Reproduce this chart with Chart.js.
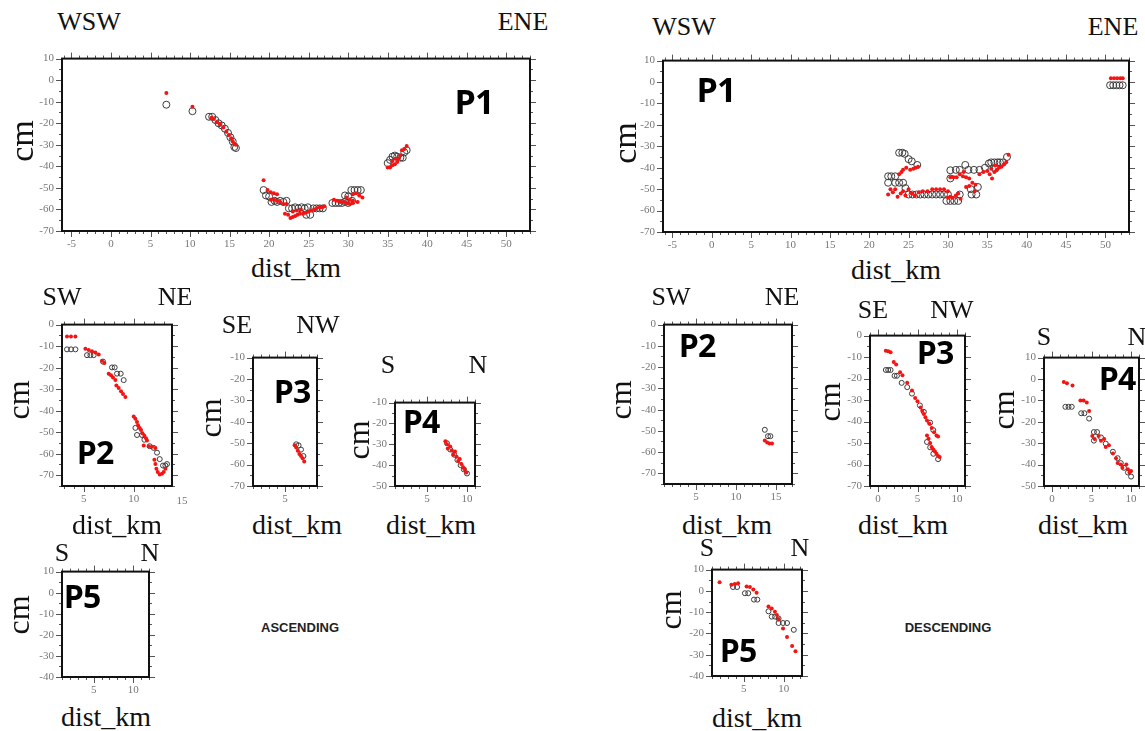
<!DOCTYPE html>
<html>
<head>
<meta charset="utf-8">
<script src="https://cdn.jsdelivr.net/npm/chart.js@4/dist/chart.umd.min.js"></script>
<style>
body{margin:0;background:#fff;width:1145px;height:731px;position:relative;overflow:hidden}
.t{position:absolute;white-space:nowrap;transform:translate(-50%,-50%);color:#111;line-height:1;font-family:"Liberation Serif","Times New Roman",Times,"DejaVu Serif",serif}
.v{transform:translate(-50%,-50%) rotate(-90deg)}
.p{font-family:"Open Sans","Noto Sans",sans-serif;font-weight:700;color:#000;letter-spacing:-1px}
.s{font-family:"Liberation Sans",Arial,sans-serif;font-weight:700;font-size:13px;color:#222}
.k{font-size:11px;color:#777}
</style>
</head>
<body>
<script>
// profiles: [km, cm] pairs, black = observed, red = model
const ascP1Obs = [[7.0,-11.4],[10.3,-14.4],[12.4,-17],[12.8,-17],[13.2,-18.5],[13.6,-20],[14.0,-21],[14.4,-22.5],[14.8,-24.5],[15.1,-26.5],[15.4,-28.5],[15.6,-31],[15.8,-31.5],
  [19.3,-51],[19.6,-53.5],[20.0,-54],[20.3,-56.5],[20.7,-56],[21.0,-56.5],[21.4,-56],[21.8,-56.5],[22.2,-56],[22.5,-59.5],[22.9,-59.5],[23.3,-59],[23.7,-59.5],[24.1,-59],[24.5,-59.5],[24.9,-59],[24.7,-62.5],[25.2,-62.5],[25.6,-59.5],[26.0,-59.5],[26.4,-59.5],[26.8,-59.5],
  [28.0,-57],[28.4,-57],[28.8,-57],[29.2,-57],[29.6,-56.5],[29.6,-53.5],[30.0,-54],[30.4,-51],[30.8,-51],[31.2,-51],[31.6,-51],[30.0,-57],[30.5,-56],
  [35.0,-38.5],[35.3,-37],[35.6,-35.5],[35.9,-35],[36.2,-35.5],[36.6,-36],[36.9,-36],[37.1,-33.5],[37.4,-32.5]];
const ascP1Mod = [[7.0,-6],[10.3,-12.4],[12.7,-17.5],[13.0,-18],[13.4,-19.5],[13.8,-20.5],[14.2,-22],[14.6,-24],[14.9,-25.5],[15.2,-27],[15.4,-28.5],[15.6,-29.5],[15.8,-30],
  [19.3,-46.5],[19.8,-51],[20.2,-52],[20.6,-52.5],[21.0,-53],[20.2,-55.5],[20.6,-55.5],[21.0,-56],[21.4,-56.5],[21.8,-57.5],[22.2,-57.5],[22.0,-62],[22.4,-62.5],[22.7,-64],[23.0,-63.5],[23.3,-63],[23.6,-62.5],[23.9,-62],[24.3,-62],[24.6,-61.5],[25.0,-61],[25.3,-60.5],[25.7,-60],[26.0,-59.5],[26.4,-59],[26.7,-59],[27.0,-58.5],[23.0,-61],[23.5,-60.5],[24.0,-60],
  [28.2,-55.5],[28.6,-56],[29.0,-56.5],[29.4,-56.5],[29.8,-57],[30.2,-57.5],[30.6,-57],[29.8,-54.5],[30.2,-55.5],[30.6,-53],[31.0,-52.5],[31.4,-53.5],[31.8,-54.5],[30.6,-56],[31.2,-56.5],
  [35.0,-40.5],[35.3,-40.5],[35.6,-39.5],[35.9,-39],[36.2,-38],[36.4,-36.5],[36.6,-35],[36.8,-32.5],[37.1,-32],[37.4,-30.5],[35.6,-37.5],[36.0,-36.5]];

const ascP2Obs = [[3.33,-11.5],[3.73,-11.5],[4.17,-11.5],[5.33,-14.2],[5.67,-14.2],[6.0,-14.2],[6.93,-17.2],[7.83,-19.9],[8.1,-19.9],[8.33,-22.8],[8.7,-22.8],[9.0,-25.8],
  [10.17,-48],[10.33,-51.3],[10.83,-51.3],[11.07,-53.5],[11.6,-56.5],[12.0,-57.3],[12.33,-59.5],[12.6,-62.5],[12.93,-65.5],[13.17,-65.5],[13.33,-64.8]];
const ascP2Mod = [[3.33,-5.5],[3.73,-5.5],[4.17,-5.5],[5.17,-11.2],[5.5,-11.8],[5.83,-12.4],[6.17,-13],[6.5,-13.9],[6.83,-16.8],[7.07,-17.8],[7.5,-22.8],[7.73,-23.5],[7.93,-24.6],[8.17,-25.8],
  [8.27,-28.3],[8.5,-29.5],[8.73,-31],[8.93,-32.2],[9.17,-33.7],[10.0,-42.7],[10.17,-43.8],[10.33,-45.3],[10.43,-46.8],[10.6,-48],[10.73,-49],[10.87,-50.5],[11.07,-51.7],[11.23,-52.8],[11.33,-53.8],
  [11.0,-56.2],[11.5,-56.5],[11.83,-56.8],[12.17,-57.3],[12.07,-62.8],[12.17,-64.8],[12.27,-67],[12.4,-68.5],[12.6,-69.7],[12.83,-69.3],[13.0,-68.5],[13.17,-67]];

const ascP3Obs = [[6.4,-50.5],[6.7,-51],[7.0,-53],[7.3,-56]];
const ascP3Mod = [[6.2,-51],[6.4,-52],[6.6,-53.5],[6.8,-55],[7.0,-56],[7.2,-57],[7.4,-58.5]];

const ascP4Obs = [[7.5,-29.5],[7.9,-32.5],[8.4,-35],[8.8,-37.5],[9.2,-40],[9.6,-42],[10.0,-44]];
const ascP4Mod = [[7.3,-28.5],[7.5,-30],[7.6,-32],[7.9,-31],[8.1,-33],[8.3,-35],[8.5,-33.5],[8.7,-36],[8.9,-38],[9.1,-37],[9.3,-39.5],[9.5,-41],[9.7,-42],[9.9,-43.5]];

const ascP5Obs = [];
const ascP5Mod = [];

const descP1Obs = [[22.4,-44],[22.4,-47],[22.8,-44],[23.3,-44],[23.3,-47],[23.8,-47],[24.3,-47],[23.8,-33],[24.2,-33],[24.5,-33.5],[25.0,-36],[25.4,-37],[26.1,-38.7],
  [24.6,-49.5],[25.0,-52.5],[25.5,-52.5],[26.0,-52.5],[26.5,-52.5],[27.0,-52.5],[27.5,-52.5],[28.0,-52.5],[28.5,-52.5],[29.0,-52.5],[29.5,-52.5],[30.0,-52.5],
  [29.8,-55.5],[30.3,-55.5],[30.8,-55.5],[31.3,-55.5],[30.3,-41.2],[30.3,-45],[31.0,-41],[31.5,-41],[32.2,-38.7],[32.6,-41],[33.3,-41],[32.9,-50],[33.8,-49],[33.0,-52.5],[33.6,-52.5],[31.5,-52.5],
  [34.0,-41],[34.7,-40],[35.2,-38],[35.5,-37.5],[35.9,-37.5],[36.3,-37.5],[36.6,-37.5],[37.0,-37.5],[37.5,-35],[36.0,-40.5],
  [50.6,-1.5],[51.0,-1.5],[51.4,-1.5],[51.8,-1.5],[52.2,-1.5]];
const descP1Mod = [[23.8,-43],[24.1,-42],[24.3,-41],[24.7,-40],[25.2,-41],[25.6,-40.5],[25.9,-40],[26.2,-39.5],
  [22.4,-52.5],[22.7,-50],[23.0,-51.5],[23.3,-50],[23.6,-53.5],[24.0,-52],[24.3,-51],[24.6,-53],[25.0,-50],[25.4,-52],[25.8,-53],[26.3,-51.5],[26.8,-51],[27.4,-51],[28.0,-50],[28.5,-50],[29.0,-50],[29.5,-50],[30.0,-51],[30.3,-53.5],[30.6,-54],[31.0,-53],[31.3,-52],[31.6,-54.5],[30.0,-54],
  [30.3,-44.5],[30.7,-44.5],[31.1,-44.5],[31.5,-43],[31.9,-44],[32.3,-44.5],[32.7,-45],[33.1,-47],[33.5,-48],[32.3,-49],[32.7,-48.5],[33.4,-51],[32.0,-42],
  [34.0,-43],[34.5,-42],[35.0,-41.5],[35.3,-43],[35.6,-45],[35.9,-42],[36.2,-41],[36.5,-40],[36.8,-39.5],[37.1,-38.5],[37.4,-37.5],[37.7,-34],[35.5,-40.5],[36.0,-39],
  [50.7,1.8],[51.1,1.8],[51.5,1.8],[51.9,1.8],[52.2,1.8]];

const descP2Obs = [[13.6,-49.5],[14.0,-52.5],[14.3,-52.5]];
const descP2Mod = [[13.6,-54.5],[13.9,-55.5],[14.2,-56],[14.5,-56]];

const descP3Obs = [[1.0,-16],[1.3,-16],[1.6,-16],[2.1,-18.7],[2.4,-18.7],[3.0,-22],[3.7,-24],[4.3,-27],[5.3,-32.5],[5.8,-35.5],[6.6,-40.5],[7.0,-44],[6.2,-49.5],[6.6,-52],[7.0,-55],[7.6,-57.5]];
const descP3Mod = [[1.0,-7],[1.3,-7.3],[1.6,-7.8],[2.0,-12.3],[2.3,-13.5],[2.8,-17],[3.1,-18.5],[3.7,-22],[4.3,-25.5],[4.7,-29],[5.0,-30.5],[5.4,-33.5],[5.6,-35],[5.8,-36.5],[6.0,-38],[6.2,-39.5],[6.5,-41],[6.8,-43],[7.1,-45],[7.4,-46.5],[7.6,-47],
  [6.2,-46.5],[6.4,-48],[6.6,-50],[6.8,-52],[7.0,-53],[7.2,-54],[7.4,-55],[7.6,-56],[7.8,-56.5]];

const descP4Obs = [[1.7,-13],[2.1,-13],[2.5,-13],[3.7,-16],[4.1,-16],[4.7,-18.5],[5.3,-24.8],[5.7,-24.8],[5.3,-28.8],[6.2,-27.3],[6.8,-30.2],[7.7,-34],[8.3,-37],[8.7,-39.3],[9.1,-41.5],[9.6,-43.7],[10.0,-45.6]];
const descP4Mod = [[1.5,-1.4],[1.9,-2],[2.6,-3],[3.6,-10],[4.0,-10],[4.4,-11],[4.7,-15],[5.1,-26.6],[5.4,-28],[5.9,-26.6],[6.2,-28.8],[6.6,-28],[6.8,-31.8],[7.2,-31],[7.7,-34.8],[8.1,-37],[8.3,-39.3],[8.7,-40],[8.9,-41.5],[9.4,-40],[9.6,-42.2],[9.8,-43.7],[10.0,-43]];

const descP5Obs = [[3.64,1.8],[4.15,1.8],[5.13,-1.1],[5.55,-1.1],[6.27,-4.1],[6.69,-4.1],[8.09,-9.6],[8.5,-12.1],[8.92,-12.1],[9.36,-13],[9.36,-15.1],[9.92,-15.1],[10.42,-15.1],[11.27,-18.3]];
const descP5Mod = [[1.95,4.1],[3.43,2.9],[3.86,3.2],[4.28,3.6],[5.34,2.1],[5.76,1.8],[6.19,0.6],[6.6,-0.9],[8.09,-7.3],[8.5,-8.3],[8.9,-9.8],[9.15,-11.3],[9.36,-13.2],[9.92,-17.7],[10.42,-21.7],[11.06,-25.9],[11.48,-28.4]];

// annotated ticks
const p1Km = [-5,0,5,10,15,20,25,30,35,40,45,50];
const p1Cm = [10,0,-10,-20,-30,-40,-50,-60,-70];
const kmTicksA = [5,10];
const kmTicksB = [0,5,10];
const kmTicksC = [5,10,15];
const cmTicks75 = [0,-10,-20,-30,-40,-50,-60,-70];
const cmTicks10to70 = [-10,-20,-30,-40,-50,-60,-70];
const cmTicks10to50 = [-10,-20,-30,-40,-50];
const cmTicks0to70 = [0,-10,-20,-30,-40,-50,-60,-70];
const cmTicks10toM50 = [10,0,-10,-20,-30,-40,-50];
const cmTicks10toM40 = [10,0,-10,-20,-30,-40];

const YW = 34, XH = 20, PT = 8, PR = 8;
const serif = "'Liberation Serif', 'Times New Roman', Times, serif";

function framePlugin(xMinor, xMajor, yMinor, yMajor) {
  return {
    id: 'frame',
    afterDraw(chart) {
      const {ctx, chartArea: a, scales: {x, y}} = chart;
      ctx.save();
      ctx.strokeStyle = '#555';
      ctx.lineWidth = 1;
      const isMajor = (v, m) => Math.abs(v / m - Math.round(v / m)) < 1e-6;
      for (let v = Math.ceil(x.min / xMinor) * xMinor; v <= x.max + 1e-9; v += xMinor) {
        const px = Math.round(x.getPixelForValue(v)) + 0.5;
        const len = isMajor(v, xMajor) ? 6 : 3;
        ctx.beginPath();
        ctx.moveTo(px, a.top); ctx.lineTo(px, a.top - len);
        ctx.moveTo(px, a.bottom); ctx.lineTo(px, a.bottom + len);
        ctx.stroke();
      }
      for (let v = Math.ceil(y.min / yMinor) * yMinor; v <= y.max + 1e-9; v += yMinor) {
        const py = Math.round(y.getPixelForValue(v)) + 0.5;
        const len = isMajor(v, yMajor) ? 6 : 3;
        ctx.beginPath();
        ctx.moveTo(a.left, py); ctx.lineTo(a.left - len, py);
        ctx.moveTo(a.right, py); ctx.lineTo(a.right + len, py);
        ctx.stroke();
      }
      ctx.strokeStyle = '#111';
      ctx.lineWidth = 2;
      ctx.strokeRect(a.left, a.top, a.right - a.left, a.bottom - a.top);
      ctx.restore();
    }
  };
}

function panel(box, xr, yr, xt, yt, obs, mod, rObs, rMod, xMinor) {
  const w = box[2] - box[0] + YW + PR, h = box[3] - box[1] + PT + XH;
  const cv = document.createElement('canvas');
  cv.width = w; cv.height = h;
  cv.style.cssText = 'position:absolute;left:' + (box[0] - YW) + 'px;top:' + (box[1] - PT) + 'px;width:' + w + 'px;height:' + h + 'px';
  document.body.appendChild(cv);
  const tickFont = {family: serif, size: 11};
  new Chart(cv, {
    type: 'scatter',
    data: {
      datasets: [
        {data: mod.map(p => ({x: p[0], y: p[1]})), backgroundColor: '#f41414', borderWidth: 0, pointRadius: rMod},
        {data: obs.map(p => ({x: p[0], y: p[1]})), backgroundColor: 'rgba(0,0,0,0)', borderColor: '#3c3c3c', borderWidth: 1, pointRadius: rObs}
      ]
    },
    options: {
      responsive: false,
      animation: false,
      devicePixelRatio: 1,
      layout: {padding: {top: PT, right: PR, left: 0, bottom: 0}},
      plugins: {legend: {display: false}, tooltip: {enabled: false}},
      scales: {
        x: {
          type: 'linear', min: xr[0], max: xr[1],
          afterBuildTicks: s => { s.ticks = xt.map(v => ({value: v})); },
          afterFit: s => { s.height = XH; },
          grid: {display: false, drawTicks: false}, border: {display: false},
          ticks: {padding: 7, font: tickFont, color: '#777', maxRotation: 0, autoSkip: false}
        },
        y: {
          type: 'linear', min: yr[0], max: yr[1],
          afterBuildTicks: s => { s.ticks = yt.map(v => ({value: v})); },
          afterFit: s => { s.width = YW; },
          grid: {display: false, drawTicks: false}, border: {display: false},
          ticks: {padding: 8, font: tickFont, color: '#777', autoSkip: false}
        }
      }
    },
    plugins: [framePlugin(xMinor, 5, 5, 10)]
  });
}

function label(text, x, y, size, cls) {
  const d = document.createElement('div');
  d.className = 't' + (cls ? ' ' + cls : '');
  d.style.left = x + 'px';
  d.style.top = y + 'px';
  if (size) d.style.fontSize = size + 'px';
  d.textContent = text;
  document.body.appendChild(d);
}

// ascending
panel([62, 52, 530, 231], [-6.2, 53], [-70, 10], p1Km, p1Cm, ascP1Obs, ascP1Mod, 3.5, 2, 1);
panel([62, 318, 172, 486], [2.83, 13.83], [-75, 0], kmTicksA, cmTicks75, ascP2Obs, ascP2Mod, 2.5, 2, 1);
panel([253, 351, 317, 486], [1, 9], [-70, -10], [5], cmTicks10to70, ascP3Obs, ascP3Mod, 2.5, 2, 1);
panel([395, 396, 475, 486], [1, 11], [-50, -10], kmTicksA, cmTicks10to50, ascP4Obs, ascP4Mod, 2.5, 2, 1);
panel([62, 565, 149, 677], [1, 12], [-40, 10], kmTicksA, cmTicks10toM40, ascP5Obs, ascP5Mod, 2.5, 2, 1);

// descending
panel([663, 54, 1129, 232], [-6.2, 53], [-70, 10], p1Km, p1Cm, descP1Obs, descP1Mod, 3.5, 2, 1);
panel([664, 318, 792, 484], [1, 17], [-75, 0], kmTicksC, cmTicks75, descP2Obs, descP2Mod, 2.5, 2, 1);
panel([870, 329, 965, 486], [-1, 11], [-70, 0], kmTicksB, cmTicks0to70, descP3Obs, descP3Mod, 2.5, 2, 1);
panel([1044, 351, 1139, 486], [-1, 11], [-50, 10], kmTicksB, cmTicks10toM50, descP4Obs, descP4Mod, 2.5, 2, 1);
panel([712, 563, 802, 676], [1, 12.3], [-40, 10], kmTicksA, cmTicks10toM40, descP5Obs, descP5Mod, 2.5, 2, 1);

// the 15 km annotation of the ascending P2 frame sits just past its edge
label('15', 182, 500, 0, 'k');

// headings, axis names, profile names
label('WSW', 89, 22, 26); label('ENE', 523, 22, 26);
label('cm', 22, 141, 34, 'v'); label('dist_km', 296, 268, 28);
label('P1', 474, 101, 34, 'p');
label('WSW', 684, 27, 26); label('ENE', 1113, 27, 26);
label('cm', 625, 143, 34, 'v'); label('dist_km', 896, 270, 28);
label('P1', 716, 89, 34, 'p');

label('SW', 62, 297, 26); label('NE', 175, 297, 26);
label('cm', 18, 400, 32, 'v'); label('dist_km', 117, 525, 28);
label('P2', 95, 452, 32, 'p');
label('SE', 237, 325, 26); label('NW', 318, 325, 26);
label('cm', 210, 418, 32, 'v'); label('dist_km', 297, 525, 28);
label('P3', 292, 391, 32, 'p');
label('S', 388, 365, 26); label('N', 478, 365, 26);
label('cm', 358, 440, 32, 'v'); label('dist_km', 431, 525, 28);
label('P4', 421, 421, 32, 'p');
label('S', 62, 553, 26); label('N', 150, 553, 26);
label('cm', 18, 615, 32, 'v'); label('dist_km', 106, 717, 28);
label('P5', 82, 596, 32, 'p');
label('ASCENDING', 300, 627, 0, 's');

label('SW', 671, 297, 26); label('NE', 782, 297, 26);
label('cm', 620, 400, 32, 'v'); label('dist_km', 727, 525, 28);
label('P2', 697, 345, 32, 'p');
label('SE', 873, 310, 26); label('NW', 952, 310, 26);
label('cm', 829, 402, 32, 'v'); label('dist_km', 903, 525, 28);
label('P3', 935, 352, 32, 'p');
label('S', 1044, 337, 26); label('N', 1137, 337, 26);
label('cm', 1003, 410, 32, 'v'); label('dist_km', 1083, 525, 28);
label('P4', 1117, 378, 32, 'p');
label('S', 707, 548, 26); label('N', 800, 548, 26);
label('cm', 670, 610, 32, 'v'); label('dist_km', 757, 718, 28);
label('P5', 738, 650, 32, 'p');
label('DESCENDING', 948, 627, 0, 's');
</script>
</body>
</html>
